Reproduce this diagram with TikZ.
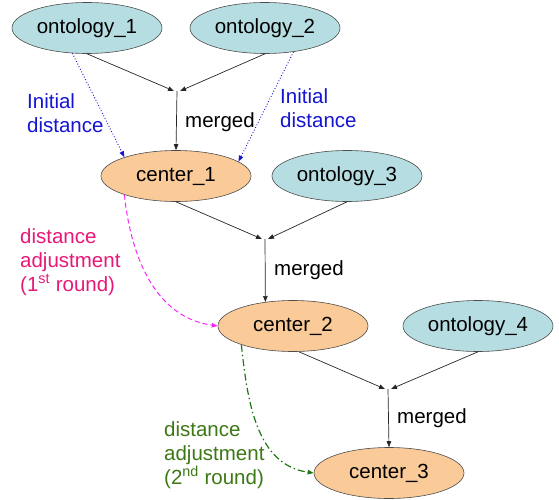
\documentclass[tikz,border=0pt]{standalone}
\usepackage{fontspec}
\setmainfont{Liberation Sans}
\usetikzlibrary{shapes.geometric,arrows.meta,calc}
\definecolor{ontofill}{RGB}{182,222,226}
\definecolor{centerfill}{RGB}{250,202,152}
\definecolor{blueline}{RGB}{20,20,210}
\definecolor{pinktext}{RGB}{232,24,120}
\definecolor{pinkline}{RGB}{245,40,245}
\definecolor{greentext}{RGB}{60,120,20}
\definecolor{greenline}{RGB}{30,120,20}
\tikzset{
  ellbase/.style={ellipse, draw=black!70, line width=0.6pt, minimum width=150pt,
    minimum height=51pt, inner sep=0pt, font=\fontsize{20.5}{24}\selectfont},
  onto/.style={ellbase, fill=ontofill},
  ctr/.style={ellbase, fill=centerfill},
  tip/.style={-{Triangle[length=6pt,width=4.5pt]}},
  merge/.style={tip, draw=black!85, line width=0.7pt},
  lbl/.style={font=\fontsize{20.5}{24}\selectfont, align=left, inner sep=0pt, anchor=west},
  initdist/.style={tip, blueline, dotted, line width=0.9pt},
}
\begin{document}
\begin{tikzpicture}[x=1pt,y=-1pt]
\useasboundingbox (0,0) rectangle (559,500);

% ontologies and centers
\node[onto] (o1) at (87,28) {ontology\_1};
\node[onto] (o2) at (265,28) {ontology\_2};
\node[ctr]  (c1) at (176,176) {center\_1};
\node[onto] (o3) at (347,176) {ontology\_3};
\node[ctr]  (c2) at (293,326) {center\_2};
\node[onto] (o4) at (478,326) {ontology\_4};
\node[ctr]  (c3) at (389,473) {center\_3};

% merge junctions
\coordinate (m1) at (177,91);
\coordinate (m2) at (265,239);
\coordinate (m3) at (388,389);

% first merge
\draw[merge] (o1.south) -- ($(m1)+(-3,0)$);
\draw[merge] (o2.south) -- ($(m1)+(3,0)$);
\draw[merge] (m1) -- (c1.north);
\node[lbl] (mg1) at (185,122) {merged};

% second merge
\draw[merge] (c1.south) -- ($(m2)+(-3,0)$);
\draw[merge] (o3.south) -- ($(m2)+(3,0)$);
\draw[merge] (m2) -- (c2.139);
\node[lbl] (mg2) at (274,270) {merged};

% third merge
\draw[merge] ($(c2.south)+(6,0)$) -- ($(m3)+(-3,0)$);
\draw[merge] (o4.south) -- ($(m3)+(3,0)$);
\draw[merge] (m3) -- (c3.north);
\node[lbl] (mg3) at (397,418) {merged};

% initial distances
\draw[initdist] (o1.240) -- (c1.160);
\draw[initdist] (o2.320) -- (c1.13);
\node[lbl, text=blueline] (id1) at (27,113) {Initial\\distance};
\node[lbl, text=blueline] (id2) at (280,108) {Initial\\distance};

% distance adjustments
\draw[tip, pinkline, dash pattern=on 5pt off 3pt, line width=1pt] (c1.200) to[out=-84,in=172] (c2.west);
\node[lbl, text=pinktext] (da1) at (20,262)
  {distance\\adjustment\\(1\textsuperscript{st} round)};

\draw[tip, greenline, dash pattern=on 7pt off 3pt on 1.5pt off 3pt, line width=1.2pt] (c2.200) to[out=-84,in=172] (c3.west);
\node[lbl, text=greentext] (da2) at (164,455)
  {distance\\adjustment\\(2\textsuperscript{nd} round)};
\end{tikzpicture}
\end{document}
